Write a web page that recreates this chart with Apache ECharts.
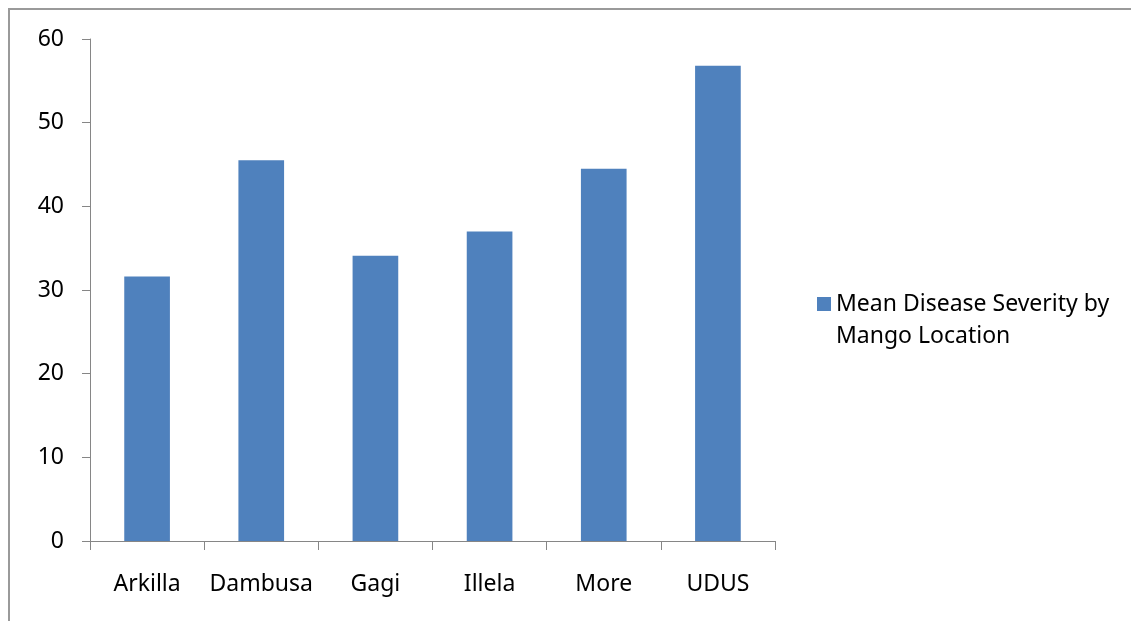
<!DOCTYPE html>
<html>
<head>
<meta charset="utf-8">
<script src="https://cdn.jsdelivr.net/npm/echarts@6/dist/echarts.min.js"></script>
<style>
  html, body { margin: 0; padding: 0; background: #fff; }
  #chart { width: 1131px; height: 621px; }
</style>
</head>
<body>
<div id="chart"></div>
<script>
// Mango locations and their mean disease severity
const locations = ['Arkilla', 'Dambusa', 'Gagi', 'Illela', 'More', 'UDUS'];
const severity = [31.6, 45.5, 34.1, 37.0, 44.5, 56.8];
const seriesName = 'Mean Disease Severity by Mango Location';
const yTicks = { min: 0, max: 60, interval: 10 };

const axisGray = '#868686';
const barBlue = '#4f81bd';
const font = 'Noto Sans';

const chart = echarts.init(document.getElementById('chart'), null, { renderer: 'canvas' });

chart.setOption({
  animation: false,
  backgroundColor: '#ffffff',
  textStyle: { fontFamily: font },
  graphic: [{
    // outer chart-area frame
    type: 'rect',
    shape: { x: 9, y: 9, width: 1200, height: 700 },
    style: { fill: 'none', stroke: '#9a9a9a', lineWidth: 2 },
    silent: true,
    z: -1
  }],
  grid: { left: 90, right: 356, top: 39, bottom: 80, containLabel: false },
  legend: {
    data: [seriesName],
    orient: 'vertical',
    left: 812,
    top: 251,
    itemWidth: 14,
    itemHeight: 14,
    itemGap: 0,
    icon: 'rect',
    // the wrapped name sits with its first line beside the swatch
    formatter: () => '{s| }\n{t|Mean Disease Severity by}\n{t|Mango Location}',
    textStyle: {
      fontFamily: font,
      fontSize: 22,
      color: '#000',
      rich: {
        s: { fontSize: 22, lineHeight: 32, height: 32 },
        t: { fontFamily: font, fontSize: 23, lineHeight: 32, color: '#000' }
      }
    }
  },
  xAxis: {
    type: 'category',
    data: locations,
    axisLine: { lineStyle: { color: axisGray, width: 1 } },
    axisTick: { show: true, length: 9, interval: 0, lineStyle: { color: axisGray } },
    axisLabel: { color: '#000', fontSize: 23, margin: 32, interval: 0, fontFamily: font },
    splitLine: { show: false }
  },
  yAxis: {
    type: 'value',
    min: yTicks.min,
    max: yTicks.max,
    interval: yTicks.interval,
    axisLine: { show: true, lineStyle: { color: axisGray, width: 1 } },
    axisTick: { show: true, length: 8, lineStyle: { color: axisGray } },
    axisLabel: { color: '#000', fontSize: 23, margin: 26, fontFamily: font },
    splitLine: { show: false }
  },
  series: [{
    name: seriesName,
    type: 'bar',
    data: severity,
    barCategoryGap: '60%',
    itemStyle: { color: barBlue }
  }]
});
</script>
</body>
</html>
